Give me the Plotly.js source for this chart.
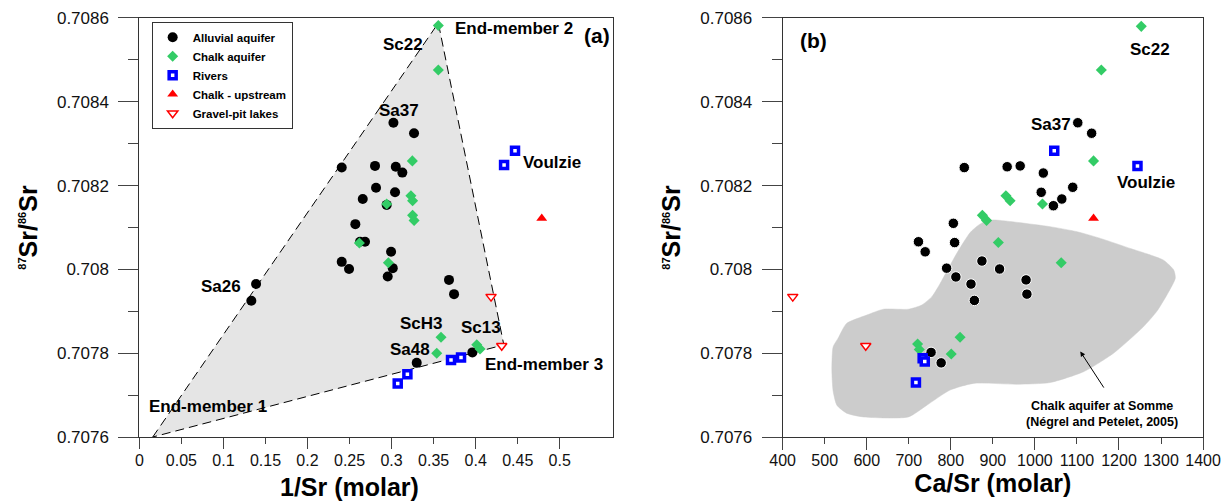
<!DOCTYPE html>
<html><head><meta charset="utf-8">
<script src="https://cdn.plot.ly/plotly-3.0.1.min.js"></script>
<style>html,body{margin:0;padding:0;background:#fff}#chart{width:1231px;height:501px}</style>
</head><body><div id="chart"></div>
<script>
// ---------- Panel (a): 1/Sr vs 87Sr/86Sr ----------
const alluvial_invSr = [0.3022,0.3267,0.2407,0.2803,0.3050,0.3128,0.2815,0.3041,0.2657,0.2942,0.2569,0.2625,0.2684,0.2994,0.2407,0.2494,0.3014,0.2954,0.1388,0.1332,0.3683,0.3743,0.3299,0.3961];
const alluvial_srA    = [0.70835,0.708325,0.708243,0.708247,0.708245,0.708231,0.708195,0.708184,0.708168,0.708154,0.708108,0.708066,0.708066,0.708042,0.708018,0.708001,0.708003,0.707983,0.707965,0.707925,0.707975,0.707941,0.707777,0.707802];
const chalk_invSr = [0.3556,0.3556,0.3247,0.3230,0.3250,0.3250,0.3268,0.2942,0.2617,0.2962,0.3588,0.3537,0.4013,0.4052];
const chalk_srA   = [0.708582,0.708476,0.708259,0.708176,0.708164,0.708129,0.708117,0.708156,0.708063,0.708016,0.707838,0.7078,0.70782,0.70781];
const rivers_invSr = [0.3073,0.3188,0.3707,0.3826,0.4468,0.4338];
const rivers_srA   = [0.707728,0.70775,0.707784,0.70779,0.708283,0.708249];
const upstream_invSr = [0.4786];
const upstream_srA   = [0.708122];
const lakes_invSr = [0.4183,0.431];
const lakes_srA   = [0.707935,0.707818];
// mixing triangle (End-member 1, 2, 3)
const endMember_invSr = [0.0159,0.3556,0.4335,0.0159];
const endMember_sr    = [0.7076,0.708588,0.70782,0.7076];

// ---------- Panel (b): Ca/Sr vs 87Sr/86Sr ----------
const alluvial_CaSr = [1102,1135,832,934,965,1020,1090,1015,1064,1044,806,723,809,739,874,916,790,812,848,856,979,981,777,753];
const alluvial_srB  = [0.70835,0.708325,0.708243,0.708245,0.708247,0.70823,0.708196,0.708184,0.708168,0.708152,0.70811,0.708066,0.708064,0.708042,0.70802,0.708001,0.708003,0.707982,0.707965,0.707926,0.707975,0.707941,0.707777,0.707802];
const chalk_CaSr = [1253,1158,1139.5,931,941,875,885,1018,913,1062.6,822,801,721,725];
const chalk_srB  = [0.70858,0.708476,0.708259,0.708176,0.708164,0.708129,0.708117,0.708156,0.708064,0.708016,0.707838,0.707798,0.707822,0.707809];
const rivers_CaSr = [717,733,738,1046,1244];
const rivers_srB  = [0.70773,0.707788,0.70778,0.708283,0.708247];
const upstream_CaSr = [1139.5];
const upstream_srB  = [0.708122];
const lakes_CaSr = [424,597.6];
const lakes_srB  = [0.707935,0.707818];
// Chalk aquifer at Somme envelope (Négrel and Petelet, 2005)
const somme_CaSr = [517,520,532,552,600,640,699,731,755,775,814,846,865,880,901,960,1036,1100,1156,1227,1270,1306,1330,1334,1314,1290,1258,1187,1116,1036,957,854,798,743,699,592,552,529,520,517];
const somme_sr   = [0.70776,0.707815,0.707836,0.707871,0.707891,0.707905,0.707905,0.707915,0.707935,0.707967,0.708038,0.708088,0.708105,0.708114,0.708118,0.708112,0.708102,0.70809,0.708074,0.70805,0.708036,0.708022,0.707999,0.707979,0.707939,0.7079,0.707863,0.7078,0.707756,0.70773,0.707726,0.707728,0.707712,0.707676,0.707648,0.707648,0.707657,0.707676,0.70771,0.70776];

// ---------- tick labels ----------
const yTickVals = [0.7076,0.7078,0.708,0.7082,0.7084,0.7086];
const yTickText = ['0.7076','0.7078','0.708','0.7082','0.7084','0.7086'];
const yMinorVals = [0.7077,0.7079,0.7081,0.7083,0.7085];
const xaTickVals = [0,0.05,0.1,0.15,0.2,0.25,0.3,0.35,0.4,0.45,0.5];
const xaTickText = ['0','0.05','0.1','0.15','0.2','0.25','0.3','0.35','0.4','0.45','0.5'];
const xaLongVals = [0,0.1,0.2,0.3,0.4,0.5];
const xbTickVals = [400,500,600,700,800,900,1000,1100,1200,1300,1400];
const xbTickText = ['400','500','600','700','800','900','1000','1100','1200','1300','1400'];
const xbLongVals = [400,600,800,1000,1200,1400];

const FONT = 'Liberation Sans, Arial, sans-serif';
const GREEN = '#33cc66', BLUE = '#0000ff', RED = '#ff0000';

const mk = {
  alluvialA: {symbol:'circle', size:10, color:'#000'},
  alluvialB: {symbol:'circle', size:10.5, color:'#000', line:{color:'#fff', width:1}},
  chalk: {symbol:'diamond', size:8.5, color:GREEN},
  rivers: {symbol:'square', size:7, color:'#fff', line:{color:BLUE, width:3.5}},
  upstream: {symbol:'triangle-up', size:9.5, color:RED},
  lakes: {symbol:'triangle-down', size:9, color:'#fff', line:{color:RED, width:1.5}}
};

const traces = [
  {x:endMember_invSr, y:endMember_sr, xaxis:'x', yaxis:'y', mode:'lines', fill:'toself', fillcolor:'#e5e5e5',
   line:{color:'#000', width:1, dash:'9px,5px'}, showlegend:false, hoverinfo:'skip'},
  {x:somme_CaSr, y:somme_sr, xaxis:'x2', yaxis:'y2', mode:'lines', fill:'toself', fillcolor:'#cccccc',
   line:{color:'#cccccc', width:0.5, shape:'spline', smoothing:0.6}, showlegend:false, hoverinfo:'skip'},
  {x:alluvial_invSr, y:alluvial_srA, xaxis:'x', yaxis:'y', mode:'markers', name:'Alluvial aquifer', marker:mk.alluvialA},
  {x:chalk_invSr, y:chalk_srA, xaxis:'x', yaxis:'y', mode:'markers', name:'Chalk aquifer', marker:mk.chalk},
  {x:rivers_invSr, y:rivers_srA, xaxis:'x', yaxis:'y', mode:'markers', name:'Rivers', marker:mk.rivers},
  {x:upstream_invSr, y:upstream_srA, xaxis:'x', yaxis:'y', mode:'markers', name:'Chalk - upstream', marker:mk.upstream},
  {x:lakes_invSr, y:lakes_srA, xaxis:'x', yaxis:'y', mode:'markers', name:'Gravel-pit lakes', marker:mk.lakes},
  {x:alluvial_CaSr, y:alluvial_srB, xaxis:'x2', yaxis:'y2', mode:'markers', name:'Alluvial aquifer', marker:mk.alluvialB, showlegend:false},
  {x:chalk_CaSr, y:chalk_srB, xaxis:'x2', yaxis:'y2', mode:'markers', name:'Chalk aquifer', marker:mk.chalk, showlegend:false},
  {x:rivers_CaSr, y:rivers_srB, xaxis:'x2', yaxis:'y2', mode:'markers', name:'Rivers', marker:mk.rivers, showlegend:false},
  {x:upstream_CaSr, y:upstream_srB, xaxis:'x2', yaxis:'y2', mode:'markers', name:'Chalk - upstream', marker:mk.upstream, showlegend:false},
  {x:lakes_CaSr, y:lakes_srB, xaxis:'x2', yaxis:'y2', mode:'markers', name:'Gravel-pit lakes', marker:mk.lakes, showlegend:false},
  {x:[], y:[], xaxis:'x3', yaxis:'y', mode:'markers', showlegend:false, hoverinfo:'skip'},
  {x:[], y:[], xaxis:'x4', yaxis:'y2', mode:'markers', showlegend:false, hoverinfo:'skip'}
];

const yDom = [0.1277, 0.9641];
const tickFontY = {family:FONT, size:17, color:'#111'};
const tickFontX = {family:FONT, size:16, color:'#111'};
const ytitle = '<sup><span style="font-size:11px">87</span></sup>Sr/<sup><span style="font-size:11px">86</span></sup>Sr';

function yAxis(anchor){
  return {domain:yDom, anchor:anchor, range:[0.7076,0.7086], tickmode:'array', tickvals:yTickVals, ticktext:yTickText,
    ticks:'outside', ticklen:20, tickcolor:'#444', tickwidth:1, tickfont:tickFontY, ticklabelstandoff:6,
    minor:{tickmode:'array', tickvals:yMinorVals, ticks:'outside', ticklen:10, tickcolor:'#444', tickwidth:1},
    showline:true, linecolor:'#333', linewidth:1, mirror:true, showgrid:false, zeroline:false,
    title:{text:ytitle, font:{family:FONT, size:25, color:'#000', weight:'bold'}, standoff:12}};
}
function xAxis(dom, range, vals, text){
  return {domain:dom, anchor:null, range:range, tickmode:'array', tickvals:vals, ticktext:text,
    ticks:'outside', ticklen:6, tickcolor:'#444', tickwidth:1, tickfont:tickFontX, ticklabelstandoff:3,
    showline:true, linecolor:'#333', linewidth:1, mirror:true, showgrid:false, zeroline:false};
}
const xa = xAxis([0.1132,0.4980],[0,0.5634],xaTickVals,xaTickText); xa.anchor='y';
const xb = xAxis([0.6358,0.9773],[400,1400],xbTickVals,xbTickText); xb.anchor='y2';
xb.title = {text:'Ca/Sr (molar)', font:{family:FONT, size:25, color:'#000', weight:'bold'}, standoff:5};

function lab(text, x, y, ref, opts){
  return Object.assign({text:text, x:x, y:y, xref:ref[0], yref:ref[1], showarrow:false, xanchor:'center', yanchor:'middle',
    font:{family:FONT, size:17, color:'#000', weight:'bold'}}, opts||{});
}
const A = ['x','y'], B = ['x2','y2'];
const annotations = [
  lab('End-member 2',0.373,0.708574,A,{xanchor:'left'}),
  lab('(a)',0.5438,0.708559,A,{font:{family:FONT,size:21,color:'#000',weight:'bold'}}),
  lab('Sc22',0.313,0.708536,A),
  lab('Sa37',0.309,0.70838,A),
  lab('Voulzie',0.4914,0.708256,A),
  lab('Sa26',0.0972,0.707959,A),
  lab('End-member 1',0.0818,0.707674,A),
  lab('ScH3',0.335,0.70787,A),
  lab('Sa48',0.3216,0.70781,A),
  lab('Sc13',0.4058,0.707861,A),
  lab('End-member 3',0.4084,0.707772,A,{xanchor:'left'}),
  lab('1/Sr (molar)',0.25,0.028,['x','paper'],{font:{family:FONT,size:25,color:'#000',weight:'bold'}}),
  lab('(b)',473,0.708547,B,{font:{family:FONT,size:21,color:'#000',weight:'bold'}}),
  lab('Sc22',1274.5,0.708525,B),
  lab('Sa37',1039,0.708347,B),
  lab('Voulzie',1265,0.708207,B),
  lab('Chalk aquifer at Somme<br>(Négrel and Petelet, 2005)',1159.5,0.707655,B,{font:{family:FONT,size:12.5,color:'#000',weight:'bold'}}),
  {x:1108, y:0.707804, ax:1171, ay:0.707707, xref:'x2', yref:'y2', axref:'x2', ayref:'y2', text:' ', showarrow:true,
   arrowhead:2, arrowsize:1, arrowwidth:1, arrowcolor:'#000'}
];

const layout = {
  width:1231, height:501, margin:{l:0,r:0,t:0,b:0}, paper_bgcolor:'#fff', plot_bgcolor:'#fff',
  font:{family:FONT, color:'#000'},
  xaxis:xa, yaxis:yAxis('x'),
  xaxis2:xb, yaxis2:yAxis('x2'),
  xaxis3:{overlaying:'x', anchor:'y', matches:'x', range:[0,0.5634], tickmode:'array', tickvals:xaLongVals, ticks:'outside', ticklen:11,
          tickcolor:'#444', showticklabels:false, showline:false, showgrid:false, zeroline:false},
  xaxis4:{overlaying:'x2', anchor:'y2', matches:'x2', range:[400,1400], tickmode:'array', tickvals:xbLongVals, ticks:'outside', ticklen:12,
          tickcolor:'#444', showticklabels:false, showline:false, showgrid:false, zeroline:false},
  legend:{x:0.1232, y:0.9567, xanchor:'left', yanchor:'top', bgcolor:'#fff', bordercolor:'#333', borderwidth:1,
          font:{family:FONT, size:11.5, color:'#000', weight:'bold'}, tracegroupgap:0},
  annotations:annotations, hovermode:false
};
Plotly.newPlot('chart', traces, layout, {staticPlot:true, displayModeBar:false});
</script></body></html>
